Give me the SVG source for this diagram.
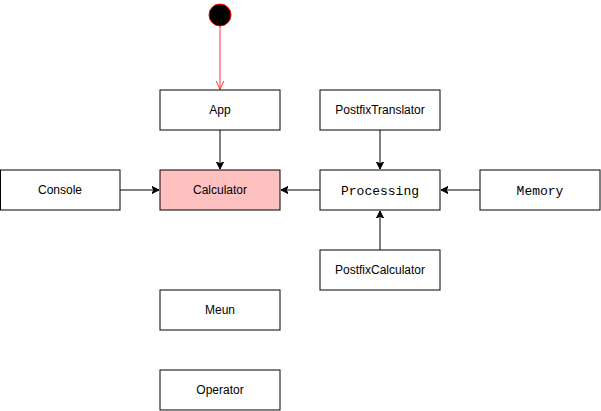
<svg xmlns="http://www.w3.org/2000/svg" width="601" height="411" viewBox="0 0 601 411">
<style>
.box{fill:#ffffff;stroke:#000000;stroke-width:1}
.calc{fill:#ffc0c0;stroke:#000000;stroke-width:1}
.lbl{font-family:"Liberation Sans",Arial,sans-serif;font-size:12px;fill:#000000;text-anchor:middle;dominant-baseline:central}
.mono{font-family:"Liberation Mono","Courier New",monospace;font-size:13px;fill:#000000;text-anchor:middle;dominant-baseline:central}
.edge{stroke:#000000;stroke-width:1;fill:none}
</style>
<defs>
<marker id="blk" markerWidth="10" markerHeight="10" refX="7" refY="4" orient="auto" markerUnits="userSpaceOnUse">
<path d="M0,0.5 L7,4 L0,7.5 L1.8,4 Z" fill="#000000" stroke="#000000" stroke-width="1"/>
</marker>
<marker id="open" markerWidth="12" markerHeight="12" refX="9" refY="4.5" orient="auto" markerUnits="userSpaceOnUse">
<path d="M0,0.5 L9,4.5 L0,8.5" fill="none" stroke="#ff3333" stroke-width="1"/>
</marker>
</defs>
<rect width="601" height="411" fill="#ffffff"/>
<g id="connectors">
<line x1="220" y1="26" x2="220" y2="89.5" stroke="#ff3333" stroke-width="1" marker-end="url(#open)"/>
<line class="edge" x1="220" y1="130" x2="220" y2="169" marker-end="url(#blk)"/>
<line class="edge" x1="120" y1="190" x2="159" y2="190" marker-end="url(#blk)"/>
<line class="edge" x1="320" y1="190" x2="281" y2="190" marker-end="url(#blk)"/>
<line class="edge" x1="480" y1="190" x2="441" y2="190" marker-end="url(#blk)"/>
<line class="edge" x1="380" y1="130" x2="380" y2="169" marker-end="url(#blk)"/>
<line class="edge" x1="380" y1="250" x2="380" y2="211" marker-end="url(#blk)"/>
</g>
<g id="start"><circle cx="220" cy="15" r="11" fill="#000000" stroke="#ff0000" stroke-width="1"/></g>
<g id="app"><rect class="box" x="160" y="90" width="120" height="40"/><text class="lbl" x="220" y="110">App</text></g>
<g id="postfixtranslator"><rect class="box" x="320" y="90" width="120" height="40"/><text class="lbl" x="380" y="110">PostfixTranslator</text></g>
<g id="console"><rect class="box" x="0.5" y="170" width="119.5" height="40"/><text class="lbl" x="60" y="190">Console</text></g>
<g id="calculator"><rect class="calc" x="160" y="170" width="120" height="40"/><text class="lbl" x="220" y="190">Calculator</text></g>
<g id="processing"><rect class="box" x="320" y="170" width="120" height="40"/><text class="mono" x="380" y="191">Processing</text></g>
<g id="memory"><rect class="box" x="480" y="170" width="120" height="40"/><text class="mono" x="540" y="191">Memory</text></g>
<g id="postfixcalculator"><rect class="box" x="320" y="250" width="120" height="40"/><text class="lbl" x="380" y="270">PostfixCalculator</text></g>
<g id="meun"><rect class="box" x="160" y="290" width="120" height="40"/><text class="lbl" x="220" y="310">Meun</text></g>
<g id="operator"><rect class="box" x="160" y="370" width="120" height="40"/><text class="lbl" x="220" y="390">Operator</text></g>
</svg>
